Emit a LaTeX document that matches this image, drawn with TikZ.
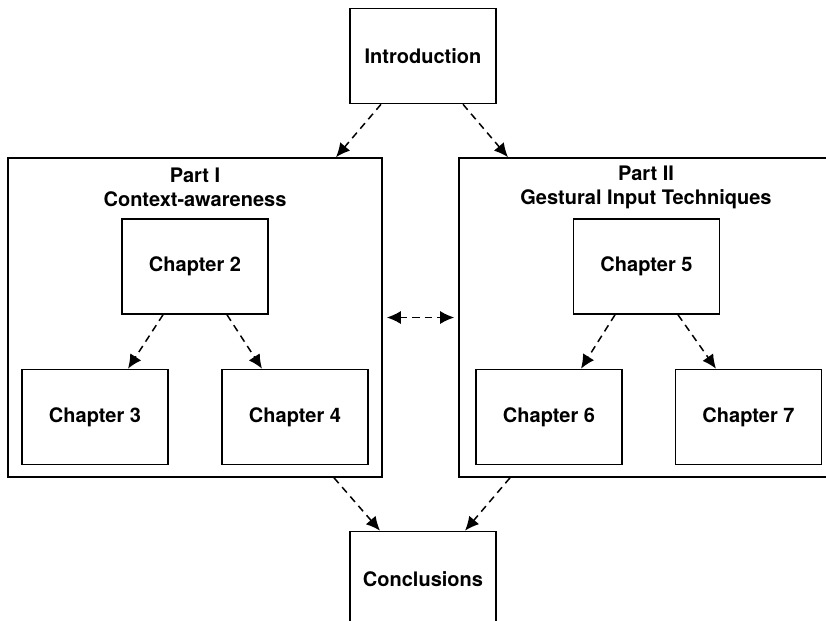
\documentclass[tikz,border=0pt]{standalone}
\usepackage{fontspec}
\setmainfont{TeX Gyre Heros}
\usetikzlibrary{positioning,arrows.meta}
\tikzset{
chapbox/.style={draw, line width=0.8pt, fill=white, inner sep=0pt,
    minimum width=73pt, minimum height=47.5pt, font=\bfseries},
partbox/.style={draw, line width=0.8pt, inner sep=0pt,
    minimum width=187pt, minimum height=159.5pt},
parttitle/.style={align=center, font=\bfseries},
flow/.style={->, line width=0.75pt, dash pattern=on 3.6pt off 2.6pt}
}

\begin{document}
\begin{tikzpicture}[>={Latex[length=7pt,width=6.5pt]},x=0.5pt,y=-0.5pt,
    every node/.append style={font=\fontsize{9.3}{10.6}\selectfont\bfseries}]
\useasboundingbox (0,0) rectangle (826,621);
\clip (0,0) rectangle (826,621);

\node[partbox] (partI) at (195,317.5) {};
\node[partbox] (partII) at (646,317.5) {};
\node[parttitle] (titleI) at (195,187) {Part I\\Context-awareness};
\node[parttitle] (titleII) at (646,187) {Part II\\Gestural Input Techniques};

\node[chapbox] (intro) at (423,56) {Introduction};
\node[chapbox] (ch2) at (195,266.5) {Chapter 2};
\node[chapbox] (ch3) at (95,417) {Chapter 3};
\node[chapbox] (ch4) at (295,417) {Chapter 4};
\node[chapbox] (ch5) at (646.5,266.5) {Chapter 5};
\node[chapbox] (ch6) at (549,417) {Chapter 6};
\node[chapbox] (ch7) at (748.5,417) {Chapter 7};
\node[chapbox] (concl) at (423,579) {Conclusions};

\draw[flow] ([xshift=-21pt]intro.south) -- ([xshift=70.5pt]partI.north);
\draw[flow] ([xshift=20pt]intro.south) -- ([xshift=-69pt]partII.north);

\draw[flow] ([xshift=-16pt]ch2.south) -- ([xshift=16.5pt]ch3.north);
\draw[flow] ([xshift=16pt]ch2.south) -- ([xshift=-16.5pt]ch4.north);
\draw[flow] ([xshift=-15.75pt]ch5.south) -- ([xshift=16pt]ch6.north);
\draw[flow] ([xshift=15.75pt]ch5.south) -- ([xshift=-16.25pt]ch7.north);

\draw[flow,<->] ([xshift=2pt]partI.east) -- ([xshift=-2pt]partII.west);

\draw[flow] ([xshift=69.5pt]partI.south) -- ([xshift=-21.5pt]concl.north);
\draw[flow] ([xshift=-68pt]partII.south) -- ([xshift=21pt]concl.north);
\end{tikzpicture}
\end{document}
